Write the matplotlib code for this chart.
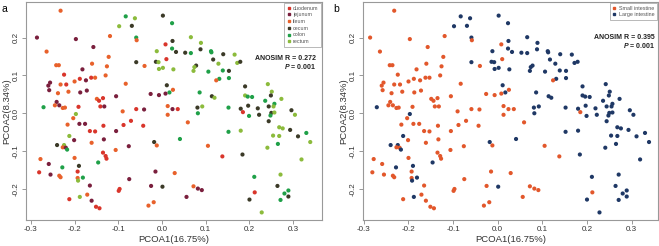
import matplotlib
matplotlib.use('Agg')
import matplotlib.pyplot as plt
from matplotlib.lines import Line2D

plt.rcParams['font.family'] = ['Liberation Sans', 'DejaVu Sans']
plt.rcParams['axes.unicode_minus'] = False
plt.rcParams['mathtext.fontset'] = 'custom'
plt.rcParams['mathtext.rm'] = 'Liberation Sans'
plt.rcParams['mathtext.bf'] = 'Liberation Sans:bold'
plt.rcParams['mathtext.it'] = 'Liberation Sans:italic'
plt.rcParams['mathtext.bfit'] = 'Liberation Sans:bold:italic'

# pcoa coordinates of each sample
pc1 = [-0.232, -0.083, -0.098, -0.286, -0.197, -0.119, -0.264, -0.157, -0.242, -0.236,
       -0.122, -0.182, -0.160, -0.126, -0.224, -0.129, -0.256, -0.260, -0.232, -0.219,
       -0.200, -0.188, -0.174, -0.162, -0.153, -0.083, -0.258, -0.238, -0.214, -0.187,
       -0.172, -0.105, -0.149, -0.144, -0.135, -0.241, -0.245, -0.235, -0.227, -0.222,
       -0.191, -0.141, -0.132, -0.271, -0.090, -0.062, 0.002, -0.069, 0.023, -0.059,
       -0.058, 0.008, 0.024, 0.066, 0.089, -0.012, 0.023, 0.032, 0.053, 0.066,
       0.088, 0.112, 0.113, 0.010, -0.059, -0.014, -0.008, -0.040, 0.002, -0.007,
       0.026, 0.078, 0.074, 0.072, 0.117, 0.129, 0.106, 0.139, 0.131, 0.124,
       0.011, 0.025, 0.017, 0.008, -0.026, -0.007, 0.086, 0.114, 0.120, 0.013,
       -0.059, -0.041, 0.024, 0.036, 0.081, 0.092, 0.140, 0.166, 0.172, 0.179,
       0.153, 0.153, 0.242, 0.190, 0.251, 0.249, 0.190, 0.196, 0.206, 0.273,
       0.236, 0.257, 0.152, 0.180, 0.197, 0.219, 0.244, 0.255, 0.296, 0.185,
       0.199, 0.222, 0.250, 0.257, 0.248, 0.304, 0.244, 0.152, 0.180, 0.268,
       0.276, 0.293, 0.254, 0.268, 0.311, 0.330, 0.339, 0.265, 0.241, 0.138,
       0.184, 0.319, 0.211, 0.271, 0.264, 0.289, 0.280, 0.289, 0.212, 0.200,
       0.271, 0.228, -0.197, -0.203, -0.216, -0.189, -0.176, -0.134, -0.088, -0.165,
       -0.153, -0.105, -0.212, -0.201, -0.161, -0.133, -0.240, -0.224, -0.227, -0.220,
       -0.217, -0.106, -0.135, -0.129, -0.127, -0.278, -0.200, -0.146, -0.259, -0.228,
       -0.190, -0.193, -0.281, -0.255, -0.235, -0.232, -0.193, -0.192, -0.181, -0.165,
       -0.097, -0.099, -0.188, -0.171, -0.212, -0.161, -0.151, -0.143, -0.071, -0.043,
       0.013, 0.059, 0.082, -0.018, -0.012, 0.041, -0.076, 0.105, -0.015, 0.029,
       -0.075, -0.025, 0.001, 0.072, 0.082, 0.091, 0.056, -0.019, -0.031]
pc2 = [0.271, 0.256, 0.230, 0.200, 0.196, 0.204, 0.163, 0.175, 0.127, 0.127,
       0.149, 0.116, 0.131, 0.124, 0.102, 0.100, 0.081, 0.073, 0.076, 0.076,
       0.084, 0.091, 0.087, 0.094, 0.094, 0.078, 0.061, 0.053, 0.057, 0.055,
       0.060, 0.045, 0.038, 0.033, 0.040, 0.030, 0.021, 0.021, 0.014, 0.015,
       0.017, 0.018, 0.018, 0.016, 0.005, 0.251, 0.258, 0.231, 0.238, 0.200,
       0.193, 0.182, 0.191, 0.201, 0.186, 0.164, 0.171, 0.162, 0.160, 0.159,
       0.169, 0.164, 0.161, 0.143, 0.135, 0.136, 0.135, 0.125, 0.120, 0.117,
       0.116, 0.126, 0.122, 0.112, 0.142, 0.131, 0.110, 0.113, 0.091, 0.087,
       0.074, 0.062, 0.055, 0.052, 0.051, 0.048, 0.055, 0.045, 0.041, 0.019,
       0.011, 0.010, 0.011, 0.011, 0.015, 0.018, 0.156, 0.155, 0.133, 0.136,
       0.112, 0.093, 0.077, 0.071, 0.057, 0.047, 0.047, 0.044, 0.043, 0.038,
       0.033, 0.025, 0.015, 0.012, 0.020, 0.013, 0.018, 0.018, 0.008, 0.003,
       -0.007, -0.004, 0.001, 0.002, -0.006, -0.004, -0.021, -0.049, -0.046, -0.037,
       -0.040, -0.044, -0.059, -0.060, -0.061, -0.052, -0.076, -0.081, -0.091, -0.114,
       -0.109, -0.122, -0.168, -0.162, -0.192, -0.204, -0.212, -0.220, -0.209, -0.228,
       -0.229, -0.262, -0.002, -0.013, -0.030, -0.028, -0.028, -0.033, -0.031, -0.047,
       -0.048, -0.047, -0.060, -0.071, -0.078, -0.069, -0.084, -0.084, -0.090, -0.091,
       -0.096, -0.097, -0.104, -0.113, -0.120, -0.121, -0.118, -0.130, -0.134, -0.143,
       -0.139, -0.154, -0.156, -0.162, -0.165, -0.169, -0.171, -0.178, -0.170, -0.191,
       -0.200, -0.205, -0.221, -0.215, -0.227, -0.231, -0.247, -0.251, -0.020, -0.033,
       -0.004, -0.024, 0.000, -0.076, -0.085, -0.068, -0.087, -0.086, -0.154, -0.158,
       -0.174, -0.192, -0.194, -0.193, -0.199, -0.203, -0.221, -0.235, -0.244]
# D duodenum, J jejunum, I ileum, C cecum, O colon, R rectum
site = list('IORJJIIJII' 'IJIIDIJJID' 'IDJDIIJIIJ' 'JJIDDJIJII' 'DDJOI'
            'RCCOOIDCRR' 'ROCCOCOODC' 'CRIRRRCRRC' 'ROOOICIOJJ' 'JOCRIDJJDC'
            'RCRRCCORCR' 'CROOROOOCC' 'CCRCDOCCRO' 'RCORRRCRRC' 'ORORDCRORC'
            'OOCDCOR'
            'RIIJJDDDDJ' 'RJIJCRIJOI' 'DDDIIOJOCD' 'DJIIIROJDD' 'RIDJDD'
            'DDIIOCIOJI' 'JIJJCIJJJII')

site_names = ['duodenum', 'jejunum', 'ileum', 'cecum', 'colon', 'rectum']
site_codes = ['D', 'J', 'I', 'C', 'O', 'R']
site_colors = ['#d9352b', '#7a1f3d', '#e8612b', '#3b3a27', '#1fa048', '#8cbb3c']
region_names = ['Small intestine', 'Large intestine']
region_colors = ['#e2572b', '#1f3865']
small_codes = ['D', 'J', 'I']

anosim_r = ['0.272', '0.395']
p_value = '0.001'

fig = plt.figure(figsize=(6.59, 2.46), dpi=100)
ax_a = fig.add_axes([0.0395, 0.1057, 0.4492, 0.8862])
ax_b = fig.add_axes([0.5508, 0.1057, 0.4476, 0.8862])

code_color = dict(zip(site_codes, site_colors))
col_a = [code_color[s] for s in site]
col_b = [region_colors[0] if s in small_codes else region_colors[1] for s in site]

ax_a.scatter(pc1, pc2, c=col_a, s=9, linewidths=0)
ax_b.scatter(pc1, pc2, c=col_b, s=9, linewidths=0)

ax_a.set_xlim(-0.311, 0.366)
ax_b.set_xlim(-0.302, 0.359)

for ax in (ax_a, ax_b):
    ax.set_ylim(-0.282, 0.294)
    ax.set_xticks([-0.3, -0.2, -0.1, 0.0, 0.1, 0.2, 0.3])
    ax.set_yticks([-0.2, -0.1, 0.0, 0.1, 0.2])
    ax.set_xticklabels(['-0.3', '-0.2', '-0.1', '0.0', '0.1', '0.2', '0.3'])
    ax.set_yticklabels(['-0.2', '-0.1', '0.0', '0.1', '0.2'], rotation=90, va='center')
    ax.tick_params(length=3, width=0.6, color='#888888', labelsize=5.8,
                   labelcolor='#333333', pad=1.5)
    for sp in ax.spines.values():
        sp.set_color('#999999')
        sp.set_linewidth(0.8)
    ax.set_xlabel('PCOA1(16.75%)', fontsize=6.8, color='#333333', labelpad=1)
    ax.set_ylabel('PCOA2(8.34%)', fontsize=6.8, color='#333333', labelpad=1)

# legends
h_a = [Line2D([], [], ls='', marker='s', ms=1.6, color=c) for c in site_colors]
leg_a = ax_a.legend(h_a, site_names, loc='upper right', fontsize=3.9, frameon=True,
                    fancybox=False, borderaxespad=0.15, handlelength=0.6,
                    handletextpad=0.5, labelspacing=0.32, borderpad=0.5)
leg_a.get_frame().set_edgecolor('#999999')
leg_a.get_frame().set_linewidth(0.6)
for t in leg_a.get_texts():
    t.set_color('#555555')

h_b = [Line2D([], [], ls='', marker='s', ms=1.6, color=c) for c in region_colors]
leg_b = ax_b.legend(h_b, region_names, loc='upper right', fontsize=3.9, frameon=True,
                    fancybox=False, borderaxespad=0.15, handlelength=0.6,
                    handletextpad=0.5, labelspacing=0.32, borderpad=0.5)
leg_b.get_frame().set_edgecolor('#999999')
leg_b.get_frame().set_linewidth(0.6)
for t in leg_b.get_texts():
    t.set_color('#555555')

# anosim annotations
ax_a.text(0.98, 0.743, 'ANOSIM R = ' + anosim_r[0], transform=ax_a.transAxes,
          ha='right', va='center', fontsize=5, fontweight='bold', color='#222222')
ax_a.text(0.98, 0.706, r'$\mathbfit{P}$ = ' + p_value, transform=ax_a.transAxes,
          ha='right', va='center', fontsize=5, fontweight='bold', color='#222222')
ax_b.text(0.99, 0.835, 'ANOSIM R = ' + anosim_r[1], transform=ax_b.transAxes,
          ha='right', va='center', fontsize=5, fontweight='bold', color='#222222')
ax_b.text(0.99, 0.800, r'$\mathbfit{P}$ = ' + p_value, transform=ax_b.transAxes,
          ha='right', va='center', fontsize=5, fontweight='bold', color='#222222')

fig.text(0.003, 0.985, 'a', fontsize=7.5, va='top', ha='left')
fig.text(0.505, 0.985, 'b', fontsize=7.5, va='top', ha='left')

fig.savefig('out.png', dpi=100)
